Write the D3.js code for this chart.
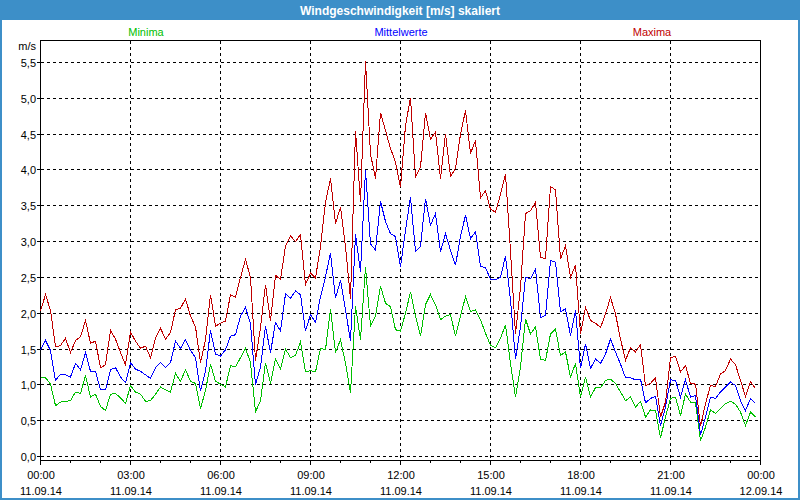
<!DOCTYPE html>
<html><head><meta charset="utf-8">
<script src="https://cdn.jsdelivr.net/npm/d3@7"></script>
<style>
body{margin:0;background:#fff}
svg{display:block}
text{font-family:"Liberation Sans",Arial,sans-serif}
</style>
</head><body>
<svg id="c" width="800" height="500"></svg>
<script>
const chartTitle = "Windgeschwindigkeit [m/s] skaliert";
const seriesNames = ["Minima", "Mittelwerte", "Maxima"];
const seriesColors = ["#00c000", "#0000ff", "#c00000"];
const unitLabel = "m/s";
const startTime = new Date(2014, 8, 11, 0, 0);
const endTime = new Date(2014, 8, 12, 0, 0);
const stepMinutes = 10;

const maxima = [2.03,2.26,2.04,1.53,1.55,1.65,1.45,1.62,1.67,1.90,1.58,1.61,1.24,1.28,1.76,1.64,1.45,1.28,1.74,1.61,1.51,1.54,1.38,1.65,1.79,1.64,1.73,2.05,2.07,2.20,1.96,1.81,1.31,1.63,2.26,1.82,1.86,1.89,2.26,
2.22,2.50,2.75,2.50,1.34,1.80,2.40,1.89,2.53,2.47,2.94,3.08,3.00,
3.10,2.40,2.56,2.49,2.93,3.55,3.88,3.25,3.48,2.93,2.20,4.55,3.55,5.52,4.22,3.88,4.80,
4.55,4.30,4.11,3.76,4.62,5.01,3.90,4.04,4.80,4.43,4.53,3.88,4.50,3.91,4.02,4.50,4.83,4.23,4.41,3.61,3.71,3.45,3.41,3.66,
3.94,2.87,1.71,2.36,3.39,3.43,3.55,2.78,2.76,3.77,3.72,2.76,2.94,2.50,2.67,1.71,2.08,1.90,1.86,
1.80,1.99,2.22,1.99,1.64,1.34,1.52,1.46,1.56,0.99,1.02,1.10,0.55,0.76,1.38,1.40,1.18,1.27,1.02,1.01,0.42,0.74,0.99,0.98,1.15,1.20,1.36,1.28,1.06,0.84,1.04,0.95];

const mittelwerte = [1.49,1.62,1.48,1.06,1.15,1.14,1.11,1.30,1.21,1.45,1.19,1.19,0.93,0.93,1.21,1.24,1.11,1.03,1.31,1.22,1.19,1.14,1.09,1.24,1.31,1.24,1.31,1.61,1.51,1.63,1.48,1.38,0.91,1.19,1.76,1.43,1.40,1.49,1.68,
1.70,1.96,2.08,1.85,1.00,1.25,1.82,1.45,1.87,1.75,2.27,2.21,2.31,
2.26,1.75,1.98,1.87,2.23,2.51,2.84,2.21,2.46,2.05,1.61,3.10,2.58,4.00,2.97,2.88,3.56,
3.28,3.11,3.07,2.65,3.16,3.62,2.86,2.93,3.60,3.23,3.39,2.86,3.11,2.88,2.67,3.07,3.37,3.04,3.14,2.65,2.64,2.47,2.47,2.50,
2.80,2.18,1.36,1.81,2.50,2.48,2.62,1.94,1.97,2.74,2.71,2.02,2.06,1.69,2.04,1.23,1.57,1.23,1.36,
1.30,1.43,1.64,1.46,1.29,1.10,1.10,1.07,1.08,0.75,0.81,0.84,0.43,0.69,1.07,1.06,0.83,1.07,0.83,0.85,0.30,0.55,0.83,0.81,0.90,0.97,1.04,0.99,0.78,0.64,0.81,0.74];

const minima = [1.10,1.10,1.01,0.71,0.76,0.77,0.78,0.90,0.88,1.13,0.83,0.87,0.70,0.64,0.87,0.88,0.82,0.74,0.99,0.90,0.87,0.77,0.78,0.87,0.97,0.93,0.90,1.16,1.05,1.21,1.05,1.02,0.67,0.92,1.29,1.05,1.01,0.97,1.27,
1.25,1.38,1.51,1.31,0.62,0.78,1.31,1.02,1.36,1.22,1.50,1.38,1.41,
1.60,1.18,1.20,1.18,1.51,1.49,2.06,1.45,1.63,1.30,0.89,2.10,1.63,2.65,1.82,1.96,2.38,
2.14,2.09,1.77,1.75,2.00,2.30,1.96,1.68,2.12,2.26,2.12,1.91,1.96,1.98,1.68,1.96,2.23,2.02,2.05,1.91,1.72,1.55,1.52,1.65,
1.84,1.30,0.83,1.25,1.92,1.71,1.81,1.36,1.34,1.71,1.78,1.41,1.46,1.11,1.30,0.83,1.11,0.83,0.96,
0.96,1.06,1.08,1.02,0.90,0.78,0.83,0.69,0.77,0.55,0.65,0.64,0.26,0.55,0.81,0.83,0.57,0.87,0.76,0.75,0.22,0.41,0.65,0.60,0.67,0.74,0.77,0.73,0.62,0.43,0.62,0.55];

const yTicks = [0, 0.5, 1, 1.5, 2, 2.5, 3, 3.5, 4, 4.5, 5, 5.5];
const xMajorHours = [0, 3, 6, 9, 12, 15, 18, 21, 24];

const svg = d3.select("#c");
const W = 800, H = 500;
const frame = "#3d8fc8";

// window frame
svg.append("rect").attr("x", 0).attr("y", 0).attr("width", W).attr("height", H).attr("fill", frame);
svg.append("rect").attr("x", 2).attr("y", 20).attr("width", W - 4).attr("height", H - 22).attr("fill", "#fff");
svg.append("text").attr("x", 400).attr("y", 14.5).attr("text-anchor", "middle")
  .attr("fill", "#fff").attr("font-weight", "bold").attr("font-size", 12).text(chartTitle);

const x = d3.scaleTime().domain([startTime, endTime]).range([40, 760]);
const y = d3.scaleLinear().domain([0, 5.5]).range([456, 62]);
const plotTop = 40, plotBottom = 460;

const g = svg.append("g").attr("shape-rendering", "crispEdges");

// horizontal grid
yTicks.forEach(v => {
  const yy = Math.round(y(v)) + 0.5;
  g.append("line").attr("x1", 41).attr("x2", 760).attr("y1", yy).attr("y2", yy)
    .attr("stroke", "#000").attr("stroke-dasharray", "3,3");
  g.append("line").attr("x1", 37).attr("x2", 40).attr("y1", yy).attr("y2", yy).attr("stroke", "#000");
  svg.append("text").attr("x", 36).attr("y", yy + 4).attr("text-anchor", "end")
    .attr("font-size", 11).attr("fill", "#000").text(d3.format(".1f")(v).replace(".", ","));
});
svg.append("text").attr("x", 36).attr("y", 50).attr("text-anchor", "end")
  .attr("font-size", 11).attr("fill", "#000").text(unitLabel);

// vertical grid & ticks
const hourTicks = d3.timeHour.range(startTime, d3.timeMinute.offset(endTime, 1));
hourTicks.forEach(t => {
  const xx = Math.round(x(t)) + 0.5;
  const isMajor = (+t - +startTime) % (3 * 3600e3) === 0;
  g.append("line").attr("x1", xx).attr("x2", xx).attr("y1", plotBottom).attr("y2", plotBottom + (isMajor ? 5 : 3)).attr("stroke", "#000");
  if (isMajor && +t !== +startTime && +t !== +endTime) {
    g.append("line").attr("x1", xx).attr("x2", xx).attr("y1", plotTop + 1).attr("y2", plotBottom)
      .attr("stroke", "#000").attr("stroke-dasharray", "3,3");
  }
});

xMajorHours.forEach(hh => {
  const t = d3.timeHour.offset(startTime, hh);
  const xx = x(t);
  svg.append("text").attr("x", xx + 1).attr("y", 479).attr("text-anchor", "middle")
    .attr("font-size", 11).attr("fill", "#000").text(d3.timeFormat("%H:%M")(t));
  svg.append("text").attr("x", xx + 1).attr("y", 495).attr("text-anchor", "middle")
    .attr("font-size", 11).attr("fill", "#000").text(d3.timeFormat("%d.%m.%y")(t));
});

// plot border
g.append("rect").attr("x", 40.5).attr("y", plotTop + 0.5).attr("width", 720).attr("height", plotBottom - plotTop)
  .attr("fill", "none").attr("stroke", "#000");
g.append("line").attr("x1", 40).attr("x2", 761).attr("y1", plotBottom + 0.5).attr("y2", plotBottom + 0.5).attr("stroke", "#000").attr("stroke-width", 1.5);

// series
const series = [minima, mittelwerte, maxima];
const line = d3.line()
  .x((d, i) => x(d3.timeMinute.offset(startTime, i * stepMinutes)) + 0.5)
  .y(d => y(d) + 0.5);
series.forEach((s, k) => {
  svg.append("path").datum(s).attr("d", line).attr("fill", "none")
    .attr("shape-rendering", "crispEdges")
    .attr("stroke", seriesColors[k]).attr("stroke-width", 1);
});

// legend
const legendX = [146, 401, 652];
seriesNames.forEach((n, k) => {
  svg.append("text").attr("x", legendX[k]).attr("y", 36).attr("text-anchor", "middle")
    .attr("font-size", 11).attr("fill", seriesColors[k]).text(n);
});
</script>
</body></html>
